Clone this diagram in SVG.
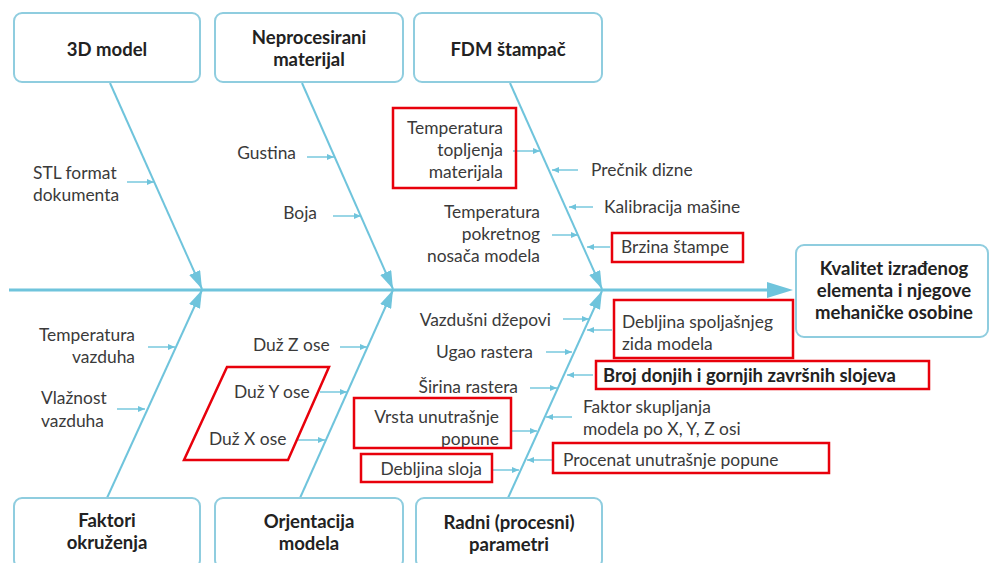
<svg xmlns="http://www.w3.org/2000/svg" width="990" height="563" viewBox="0 0 990 563">
<style>
.box{fill:#fff;stroke:#8fcddf;stroke-width:2}
.red{fill:none;stroke:#e8000b;stroke-width:2.5}
.bone{stroke:#6fc4dc;stroke-width:2;fill:none}
.sub{stroke:#6fc4dc;stroke-width:1.4;fill:none}
text{font-family:Lato,"Liberation Sans",sans-serif;font-size:17.4px;fill:#3a3a3a}
.t{font-weight:bold;fill:#222;text-anchor:middle;font-size:18.5px}
.r{text-anchor:end}
</style>
<defs>
<marker id="big" markerUnits="userSpaceOnUse" markerWidth="18" markerHeight="12" refX="18" refY="6" orient="auto"><path d="M0,0 L18,6 L0,12 z" fill="#6fc4dc"/></marker>
<marker id="sm" markerUnits="userSpaceOnUse" markerWidth="7" markerHeight="6" refX="7" refY="3" orient="auto"><path d="M0,0 L7,3 L0,6 z" fill="#6fc4dc"/></marker>
</defs>
<rect width="990" height="563" fill="#fff"/>
<g id="connectors">
<line x1="9" y1="290" x2="770" y2="290" stroke="#6fc4dc" stroke-width="3"/>
<polygon points="767,282 793,290 767,298" fill="#6fc4dc"/>
<line class="bone" x1="110" y1="83" x2="202" y2="289" marker-end="url(#big)"/>
<line class="bone" x1="302" y1="83" x2="393" y2="289" marker-end="url(#big)"/>
<line class="bone" x1="510" y1="83" x2="602" y2="289" marker-end="url(#big)"/>
<line class="bone" x1="107" y1="498" x2="202" y2="290" marker-end="url(#big)"/>
<line class="bone" x1="300" y1="498" x2="393" y2="290" marker-end="url(#big)"/>
<line class="bone" x1="508" y1="498" x2="602" y2="291" marker-end="url(#big)"/>
<line class="sub" x1="127" y1="182" x2="154" y2="182" marker-end="url(#sm)"/>
<line class="sub" x1="307" y1="157" x2="334" y2="157" marker-end="url(#sm)"/>
<line class="sub" x1="333" y1="216" x2="361" y2="216" marker-end="url(#sm)"/>
<line class="sub" x1="513" y1="151" x2="540" y2="151" marker-end="url(#sm)"/>
<line class="sub" x1="578" y1="170" x2="552" y2="170" marker-end="url(#sm)"/>
<line class="sub" x1="593" y1="207" x2="569" y2="207" marker-end="url(#sm)"/>
<line class="sub" x1="552" y1="235" x2="578" y2="235" marker-end="url(#sm)"/>
<line class="sub" x1="610" y1="247" x2="587" y2="247" marker-end="url(#sm)"/>
<line class="sub" x1="148" y1="347" x2="175" y2="347" marker-end="url(#sm)"/>
<line class="sub" x1="117" y1="409" x2="145" y2="409" marker-end="url(#sm)"/>
<line class="sub" x1="340" y1="347" x2="367" y2="347" marker-end="url(#sm)"/>
<line class="sub" x1="320" y1="392" x2="347" y2="392" marker-end="url(#sm)"/>
<line class="sub" x1="298" y1="440" x2="325" y2="440" marker-end="url(#sm)"/>
<line class="sub" x1="563" y1="319" x2="589" y2="319" marker-end="url(#sm)"/>
<line class="sub" x1="546" y1="352" x2="572" y2="352" marker-end="url(#sm)"/>
<line class="sub" x1="530" y1="388" x2="557" y2="388" marker-end="url(#sm)"/>
<line class="sub" x1="510" y1="431" x2="537" y2="431" marker-end="url(#sm)"/>
<line class="sub" x1="493" y1="470" x2="519" y2="470" marker-end="url(#sm)"/>
<line class="sub" x1="612" y1="330" x2="587" y2="330" marker-end="url(#sm)"/>
<line class="sub" x1="593" y1="375" x2="567" y2="375" marker-end="url(#sm)"/>
<line class="sub" x1="572" y1="417" x2="546" y2="417" marker-end="url(#sm)"/>
<line class="sub" x1="552" y1="460" x2="527" y2="460" marker-end="url(#sm)"/>
</g>
<g id="n-3d-model"><rect class="box" x="14" y="13" width="186" height="69" rx="8"/><text class="t" x="107" y="56">3D model</text></g>
<g id="n-neprocesirani"><rect class="box" x="215" y="13" width="188" height="69" rx="8"/><text class="t" x="309" y="44">Neprocesirani</text><text class="t" x="309" y="66">materijal</text></g>
<g id="n-fdm"><rect class="box" x="414" y="13" width="188" height="69" rx="8"/><text class="t" x="508" y="56">FDM štampač</text></g>
<g id="n-kvalitet"><rect class="box" x="796" y="245" width="192" height="92" rx="8"/><text class="t" x="894" y="275">Kvalitet izrađenog</text><text class="t" x="894" y="297">elementa i njegove</text><text class="t" x="894" y="319">mehaničke osobine</text></g>
<g id="n-faktori"><rect class="box" x="14" y="498" width="186" height="70" rx="8"/><text class="t" x="107" y="527">Faktori</text><text class="t" x="107" y="549">okruženja</text></g>
<g id="n-orjentacija"><rect class="box" x="215" y="498" width="188" height="70" rx="8"/><text class="t" x="309" y="528">Orjentacija</text><text class="t" x="309" y="550">modela</text></g>
<g id="n-radni"><rect class="box" x="416" y="498" width="186" height="70" rx="8"/><text class="t" x="509" y="529">Radni (procesni)</text><text class="t" x="509" y="551">parametri</text></g>
<g id="labels">
<text x="33" y="179">STL format</text><text x="33" y="201">dokumenta</text>
<text class="r" x="296" y="159">Gustina</text>
<text class="r" x="317" y="219">Boja</text>
<text class="r" x="503" y="134">Temperatura</text><text class="r" x="503" y="156">topljenja</text><text class="r" x="503" y="178">materijala</text>
<text x="591" y="176">Prečnik dizne</text>
<text x="604" y="213">Kalibracija mašine</text>
<text class="r" x="540" y="218">Temperatura</text><text class="r" x="540" y="240">pokretnog</text><text class="r" x="540" y="262">nosača modela</text>
<text x="621" y="253">Brzina štampe</text>
<text class="r" x="135" y="341">Temperatura</text><text class="r" x="135" y="363">vazduha</text>
<text x="41" y="404">Vlažnost</text><text x="41" y="427">vazduha</text>
<text x="253" y="351">Duž Z ose</text>
<text x="234" y="398">Duž Y ose</text>
<text x="209" y="445">Duž X ose</text>
<text class="r" x="551" y="326">Vazdušni džepovi</text>
<text class="r" x="533" y="358">Ugao rastera</text>
<text class="r" x="518" y="393">Širina rastera</text>
<text class="r" x="499" y="423">Vrsta unutrašnje</text><text class="r" x="499" y="445">popune</text>
<text class="r" x="482" y="475">Debljina sloja</text>
<text x="622" y="328">Debljina spoljašnjeg</text><text x="622" y="350">zida modela</text>
<text x="603" y="382" style="font-weight:bold;fill:#222;font-size:18.4px">Broj donjih i gornjih završnih slojeva</text>
<text x="583" y="413">Faktor skupljanja</text><text x="583" y="435">modela po X, Y, Z osi</text>
<text x="563" y="466">Procenat unutrašnje popune</text>
</g>
<g id="highlights">
<rect class="red" x="393" y="108" width="123" height="80"/>
<rect class="red" x="612" y="233" width="131" height="29"/>
<polygon class="red" points="227,367 329,367 288,460 184,460"/>
<rect class="red" x="354" y="398" width="157" height="50"/>
<rect class="red" x="361" y="454" width="131" height="28"/>
<rect class="red" x="614" y="300" width="179" height="58"/>
<rect class="red" x="596" y="361" width="333" height="28"/>
<rect class="red" x="553" y="443" width="276" height="30"/>
</g>
</svg>
